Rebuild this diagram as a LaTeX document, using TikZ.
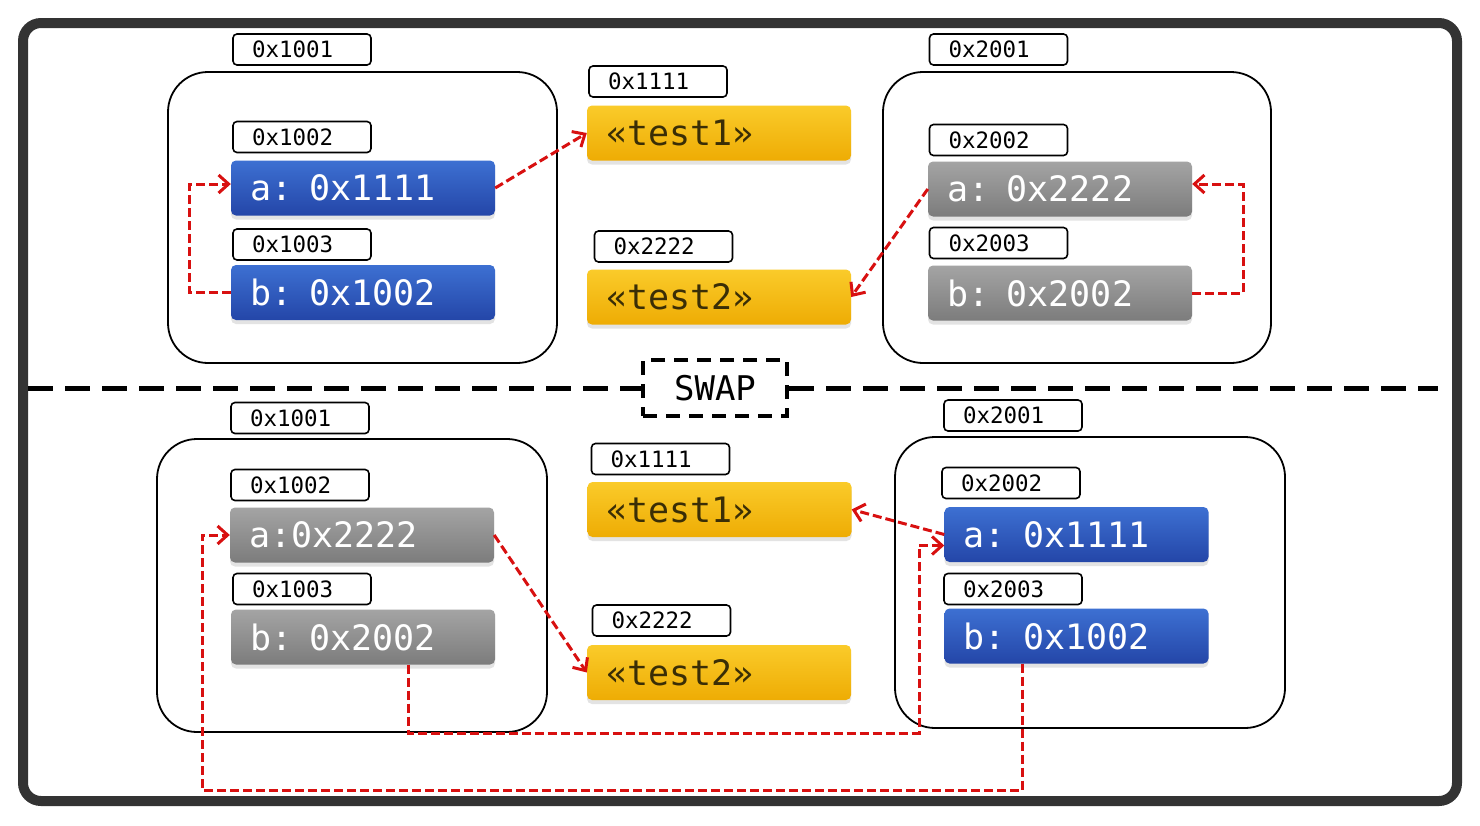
\documentclass[tikz,border=0pt]{standalone}
\usepackage{fontspec}
\newfontfamily\codefont{DejaVu Sans Mono}
\usetikzlibrary{arrows.meta,shadows,positioning}
\definecolor{frm}{HTML}{333333}
\definecolor{bltop}{HTML}{3D70D2}
\definecolor{blbot}{HTML}{2446A8}
\definecolor{grtop}{HTML}{A4A4A4}
\definecolor{grbot}{HTML}{7C7C7C}
\definecolor{yltop}{HTML}{FACB2A}
\definecolor{ylbot}{HTML}{EEAC04}
\definecolor{yltxt}{HTML}{3A2E06}
\definecolor{ptrred}{HTML}{D81010}

\begin{document}
\begin{tikzpicture}[x=1pt, y=-1pt,
  addr/.style={draw, line width=1.6pt, rounded corners=4pt, fill=white,
    text width=100pt, inner xsep=19pt, inner ysep=0pt, minimum height=31pt,
    align=left, font=\codefont\fontsize{22.5}{24}\selectfont},
  cell/.style={rounded corners=5pt, text width=226pt, inner xsep=19pt,
    inner ysep=0pt, minimum height=55pt, align=left,
    font=\codefont\fontsize{35}{37}\selectfont,
    drop shadow={opacity=0.22, shadow xshift=0pt, shadow yshift=-4pt}},
  blu/.style={cell, top color=bltop, bottom color=blbot, text=white},
  gry/.style={cell, top color=grtop, bottom color=grbot, text=white},
  ylw/.style={cell, top color=yltop, bottom color=ylbot, text=yltxt},
  mem/.style={draw, line width=1.8pt, rounded corners=40pt},
  ptr/.style={draw=ptrred, line width=3pt, dash pattern=on 9pt off 4pt,
    -{Straight Barb[length=10pt,width=18pt]}}]
\path[use as bounding box, fill=white] (0,0) rectangle (1480,825);
\draw[frm, line width=10pt, rounded corners=18pt] (23,23) rectangle (1457,801);

\draw[mem] (168,72) rectangle (557,363);
\draw[mem] (883,72) rectangle (1271,363);
\node[addr] (n1) at (302,49.5) {0x1001};
\node[addr] (n2) at (302,137) {0x1002};
\node[blu] (la1) at (363,188) {a: 0x1111};
\node[addr] (n3) at (302,244.5) {0x1003};
\node[blu] (lb1) at (363,292.5) {b: 0x1002};
\node[addr] (n4) at (658,81.5) {0x1111};
\node[ylw] (s1) at (719,133) {«test1»};
\node[addr] (n5) at (663.5,246.5) {0x2222};
\node[ylw] (s2) at (719,297) {«test2»};
\node[addr] (n6) at (998.5,49.5) {0x2001};
\node[addr] (n7) at (998.5,140) {0x2002};
\node[gry] (ra1) at (1060,189) {a: 0x2222};
\node[addr] (n8) at (998.5,243) {0x2003};
\node[gry] (rb1) at (1060,293) {b: 0x2002};
\draw[ptr] (lb1.west) -- ++(-41,0) |- ([yshift=4pt]la1.west);
\draw[ptr] (la1.east) -- (s1.west);
\draw[ptr] (rb1.east) -- ++(51,0) |- ([yshift=5pt]ra1.east);
\draw[ptr] (ra1.west) -- (s2.east);

\coordinate (sl) at (28,388);
\coordinate (sr) at (1438,388);
\node[draw, line width=4pt, dash pattern=on 14pt off 9pt, minimum width=144pt,
  minimum height=56pt, font=\codefont\fontsize{34}{36}\selectfont] (swap) at (715,388) {SWAP};
\draw[line width=5pt, dash pattern=on 25pt off 12pt] (sl) -- (swap);
\draw[line width=5pt, dash pattern=on 25pt off 12pt] (swap) -- (sr);

\draw[mem] (157,439) rectangle (547,732);
\draw[mem] (895,437) rectangle (1285,728);
\node[addr] (n9) at (300,418) {0x1001};
\node[addr] (n10) at (300,485) {0x1002};
\node[gry] (la2) at (362,535) {a:0x2222};
\node[addr] (n11) at (302,589) {0x1003};
\node[gry] (lb2) at (363,637) {b: 0x2002};
\node[addr] (n12) at (660.5,459) {0x1111};
\node[ylw] (s3) at (719.5,509.5) {«test1»};
\node[addr] (n13) at (661.5,620.5) {0x2222};
\node[ylw] (s4) at (719,672.5) {«test2»};
\node[addr] (n14) at (1013,415.5) {0x2001};
\node[addr] (n15) at (1011,483) {0x2002};
\node[blu] (ra2) at (1076.5,534.5) {a: 0x1111};
\node[addr] (n16) at (1013,589) {0x2003};
\node[blu] (rb2) at (1076.5,636) {b: 0x1002};
\draw[ptr] (la2.east) -- (s4.west);
\draw[ptr] (ra2.west) -- (s3.east);
\draw[ptr] ([xshift=45pt]lb2.south) |- (919,733) |- ([yshift=-11pt]ra2.west);
\draw[ptr] ([xshift=-54pt]rb2.south) |- (202,790) |- (la2.west);
\end{tikzpicture}
\end{document}
